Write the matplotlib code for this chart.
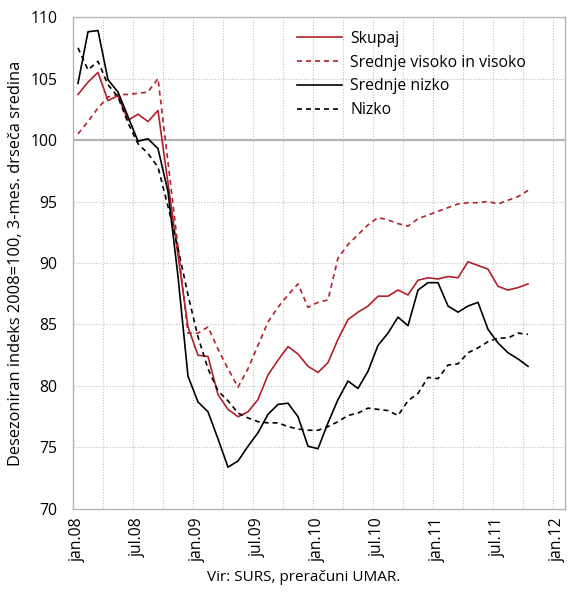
import numpy as np
import matplotlib
matplotlib.use("Agg")
import matplotlib.pyplot as plt

plt.rcParams['font.family'] = ['Open Sans', 'DejaVu Sans']

# mesecni podatki jan.08 - okt.11
skupaj = [103.7, 104.7, 105.5, 103.2, 103.6, 101.6, 102.1, 101.5, 102.4, 96.5,
          90.6, 84.8, 82.5, 82.4, 79.3, 78.1, 77.5, 77.9, 78.9, 80.9,
          82.1, 83.2, 82.6, 81.6, 81.1, 81.9, 83.8, 85.4, 86.0, 86.5,
          87.3, 87.3, 87.8, 87.4, 88.6, 88.8, 88.7, 88.9, 88.8, 90.1,
          89.8, 89.5, 88.1, 87.8, 88.0, 88.3]
visoko = [100.5, 101.5, 102.6, 103.5, 103.7, 103.7, 103.8, 103.9, 105.0, 98.2,
          91.3, 84.3, 84.3, 84.8, 83.0, 81.4, 79.9, 81.4, 83.3, 85.2,
          86.4, 87.4, 88.3, 86.4, 86.8, 87.0, 90.4, 91.5, 92.3, 93.1,
          93.7, 93.5, 93.2, 93.0, 93.6, 93.9, 94.2, 94.5, 94.8, 94.9,
          94.9, 95.0, 94.8, 95.1, 95.4, 95.9]
srednje_nizko = [104.6, 108.8, 108.9, 104.9, 103.9, 101.9, 99.9, 100.1, 99.3, 95.8,
                 88.9, 80.8, 78.7, 77.9, 75.7, 73.4, 73.9, 75.1, 76.2, 77.7,
                 78.5, 78.6, 77.5, 75.1, 74.9, 77.0, 78.9, 80.4, 79.8, 81.2,
                 83.3, 84.3, 85.6, 84.9, 87.8, 88.4, 88.4, 86.5, 86.0, 86.5,
                 86.8, 84.6, 83.5, 82.7, 82.2, 81.6]
nizko = [107.5, 105.7, 106.4, 104.5, 103.5, 101.4, 99.7, 98.9, 97.8, 94.6,
         91.2, 87.4, 84.0, 81.4, 79.6, 78.8, 77.8, 77.4, 77.1, 77.0,
         77.0, 76.7, 76.5, 76.4, 76.4, 76.7, 77.1, 77.6, 77.8, 78.2,
         78.1, 78.0, 77.6, 78.8, 79.4, 80.7, 80.6, 81.7, 81.8, 82.7,
         83.1, 83.6, 83.9, 83.9, 84.3, 84.2]

tick_pos = [0, 6, 12, 18, 24, 30, 36, 42, 48]
tick_labels = ["jan.08", "jul.08", "jan.09", "jul.09", "jan.10",
               "jul.10", "jan.11", "jul.11", "jan.12"]

rdeca = "#b2202a"
x = np.arange(len(skupaj))
dash = (0, (3, 2.4))

fig = plt.figure(figsize=(5.72, 5.93), dpi=100)
ax = fig.add_axes([0.1276, 0.1417, 0.8602, 0.8296])

# mreza
for g in np.arange(-0.5, 49, 3):
    ax.axvline(g, color="#c0c0c0", lw=0.8, ls=(0, (1, 1.5)), zorder=0)
for g in range(75, 110, 5):
    if g == 100:
        ax.axhline(g, color="#b4b4b4", lw=1.6, zorder=1)
    else:
        ax.axhline(g, color="#c0c0c0", lw=0.8, ls=(0, (1, 1.5)), zorder=0)

ax.plot(x, skupaj, color=rdeca, lw=1.2, label="Skupaj")
ax.plot(x, visoko, color=rdeca, lw=1.2, ls=dash, label="Srednje visoko in visoko")
ax.plot(x, srednje_nizko, color="black", lw=1.2, label="Srednje nizko")
ax.plot(x, nizko, color="black", lw=1.2, ls=dash, label="Nizko")

ax.set_xlim(-0.5, 48.7)
ax.set_ylim(70, 110)
ax.set_yticks(range(70, 111, 5))
ax.set_xticks(tick_pos)
ax.set_xticklabels(tick_labels, rotation=90)
ax.tick_params(length=0, labelsize=11.3, colors="black")
ax.tick_params(axis="y", pad=11)
ax.tick_params(axis="x", pad=6)
for s in ax.spines.values():
    s.set_color("#b4b4b4")
    s.set_linewidth(1.0)

ax.set_ylabel("Desezoniran indeks 2008=100, 3-mes. drseča sredina", fontsize=11.8, labelpad=5)
fig.text(0.53, 0.026, "Vir: SURS, preračuni UMAR.", ha="center", va="center", fontsize=11)

ax.legend(loc="upper left", bbox_to_anchor=(0.455, 0.972), frameon=False,
          fontsize=11.3, handlelength=2.9, handletextpad=0.5, labelspacing=0.5,
          borderpad=0, borderaxespad=0)

plt.savefig("out.png", dpi=100)
